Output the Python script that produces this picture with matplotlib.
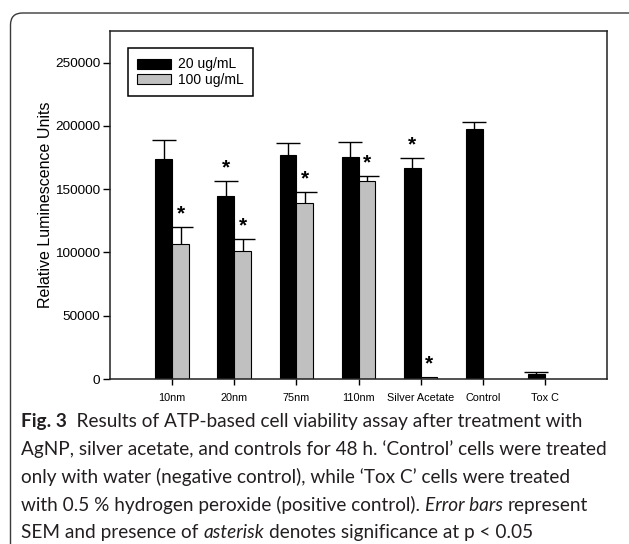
import matplotlib
matplotlib.use("Agg")
import matplotlib.pyplot as plt
import numpy as np
from matplotlib.patches import FancyBboxPatch
from matplotlib.transforms import IdentityTransform

categories = ["10nm", "20nm", "75nm", "110nm", "Silver Acetate", "Control", "Tox C"]
series_names = ["20 ug/mL", "100 ug/mL"]
vals_20 = [174000, 144800, 177000, 175400, 166900, 197500, 4000]
err_20 = [15000, 11500, 9500, 12000, 8000, 5500, 1800]
vals_100 = [106500, 101500, 139200, 156400, 1800, 0, 0]
err_100 = [13500, 8800, 8200, 4200, 0, 0, 0]
sig_20 = [False, True, False, False, True, False, False]
sig_100 = [True, True, True, True, True, False, False]
yticks = [0, 50000, 100000, 150000, 200000, 250000]
ylabel = "Relative Luminescence Units"

W, H = 629, 544
dpi = 100
fig = plt.figure(figsize=(W / dpi, H / dpi), dpi=dpi)

# rounded outer border (cut off at right and bottom)
border = FancyBboxPatch((10.5, -30), 660, H - 13 + 30, boxstyle="round,pad=0,rounding_size=12",
                        transform=IdentityTransform(), fill=False, edgecolor="#3a3a3a",
                        linewidth=1.0, zorder=0)
fig.patches.append(border)

ax = fig.add_axes([110 / W, (H - 379) / H, 497 / W, 348 / H])
x = np.arange(len(categories))
bw = 0.27
xb = x - bw / 2
xg = x + bw / 2

ekw = dict(ecolor="black", elinewidth=1.0, capsize=8.5, capthick=1.0)


def up_errorbar(xs, vs, es):
    xs = np.asarray(xs)
    vs = np.asarray(vs)
    es = np.asarray(es)
    m = es > 0
    cont = ax.errorbar(xs[m], vs[m], yerr=[np.zeros(m.sum()), es[m]], fmt="none", zorder=1, **ekw)
    caps = cont[1]
    # hide lower caps (located at the bar top)
    if len(caps) >= 2:
        caps[0].set_visible(False)


ax.bar(xb, vals_20, width=bw, color="black", edgecolor="black", linewidth=0.8,
       label=series_names[0], zorder=2)
up_errorbar(xb, vals_20, err_20)

mask = np.array(vals_100) > 0
ax.bar(xg[mask], np.array(vals_100)[mask], width=bw, color="#c0c0c0", edgecolor="black",
       linewidth=0.8, label=series_names[1], zorder=2)
up_errorbar(xg, vals_100, err_100)

for xs, vs, es, sg in [(xb, vals_20, err_20, sig_20), (xg, vals_100, err_100, sig_100)]:
    for xi, v, e, s in zip(xs, vs, es, sg):
        if s:
            ax.annotate("*", xy=(xi, v + e), xytext=(0, 5.5), textcoords="offset points",
                        ha="center", va="baseline", fontsize=15, fontweight="bold",
                        family="Liberation Sans")

ax.set_xlim(-1, 7)
ax.set_ylim(0, 275000)
ax.set_xticks(x)
ax.set_xticklabels(categories, family="Liberation Sans", fontsize=7.8)
ax.set_yticks(yticks)
ax.set_yticklabels([str(t) for t in yticks], family="Liberation Sans", fontsize=9.7)
ax.tick_params(axis="x", direction="out", length=4, width=1.0, pad=6, colors="black")
ax.tick_params(axis="y", direction="out", length=5, width=1.0, pad=2, colors="black")
for sp in ax.spines.values():
    sp.set_linewidth(1.1)
    sp.set_color("#222222")
ax.set_ylabel(ylabel, family="Liberation Sans", fontsize=11.5, labelpad=1.5)

leg = ax.legend(loc="upper left", bbox_to_anchor=(0.037, 0.95), borderaxespad=0,
                prop={"family": "Liberation Sans", "size": 10}, frameon=True, fancybox=False,
                framealpha=1, edgecolor="black", handlelength=2.4, handleheight=0.72,
                labelspacing=0.12, handletextpad=0.55, borderpad=0.65)
leg.get_frame().set_linewidth(1.1)

# caption with mixed styles
fig.canvas.draw()
renderer = fig.canvas.get_renderer()
cap_family = "Lato"
cap_size = 12.6


def width_of(s, **kw):
    t = fig.text(0, 0, s, fontsize=cap_size, family=cap_family, **kw)
    w = t.get_window_extent(renderer).width
    t.remove()
    return w


lines = [
    [("Fig. 3", "bold"), ("\u2002Results of ATP-based cell viability assay after treatment with", "normal")],
    [("AgNP, silver acetate, and controls for 48 h. \u2018Control\u2019 cells were treated", "normal")],
    [("only with water (negative control), while \u2018Tox C\u2019 cells were treated", "normal")],
    [("with 0.5 % hydrogen peroxide (positive control).", "normal"), (" ", "sp"), ("Error bars", "italic"),
     (" ", "sp"), ("represent", "normal")],
    [("SEM and presence of", "normal"), (" ", "sp"), ("asterisk", "italic"), (" ", "sp"),
     ("denotes significance at p < 0.05", "normal")],
]
# fit caption size to line 2 width
w2 = width_of(lines[1][0][0])
cap_size = cap_size * 586 / w2
space_w = width_of("a a") - width_of("aa")

baselines = [427, 455, 483, 511, 538]
for line, yb in zip(lines, baselines):
    xp = 21
    for s, st in line:
        if st == "sp":
            xp += space_w
            continue
        kw = {}
        if st == "bold":
            kw["fontweight"] = "bold"
        if st == "italic":
            kw["fontstyle"] = "italic"
        t = fig.text(xp / W, (H - yb) / H, s, fontsize=cap_size, family=cap_family,
                     va="baseline", ha="left", color="#231f20", **kw)
        xp += t.get_window_extent(renderer).width

fig.savefig("out.png", dpi=dpi)
